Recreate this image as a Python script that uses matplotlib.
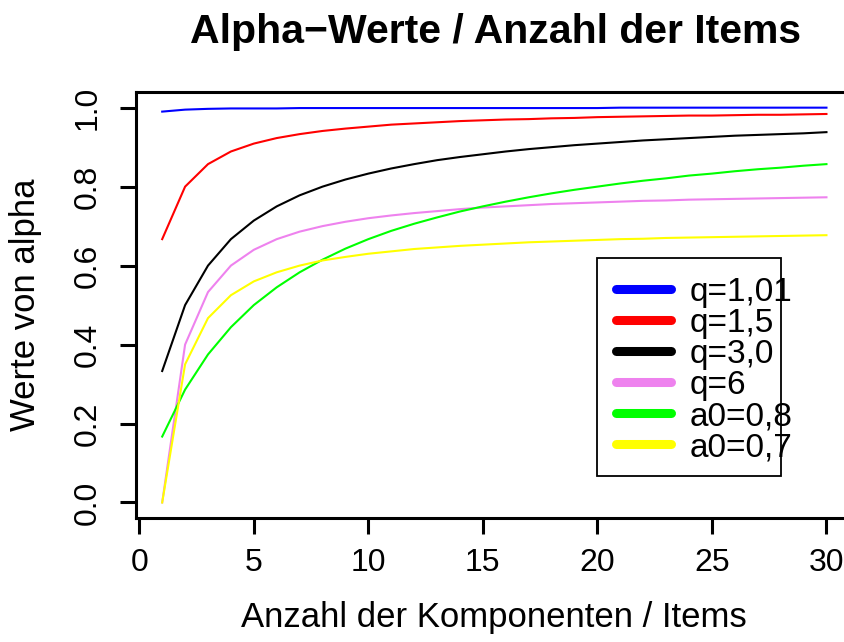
"""Alpha-Werte in Abhaengigkeit von der Anzahl der Items (Nachbau des R-Plots)."""

import matplotlib
matplotlib.use("Agg")
import matplotlib.pyplot as plt

plt.rcParams["font.family"] = ["Liberation Sans", "DejaVu Sans"]

# Anzahl der Komponenten / Items
n_items = list(range(1, 31))

alpha_q101 = [0.990, 0.995, 0.997, 0.998, 0.998, 0.998, 0.999, 0.999, 0.999, 0.999,
              0.999, 0.999, 0.999, 0.999, 0.999, 0.999, 0.999, 0.999, 0.999, 0.999,
              1.000, 1.000, 1.000, 1.000, 1.000, 1.000, 1.000, 1.000, 1.000, 1.000]
alpha_q15 = [0.667, 0.800, 0.857, 0.889, 0.909, 0.923, 0.933, 0.941, 0.947, 0.952,
             0.957, 0.960, 0.963, 0.966, 0.968, 0.970, 0.971, 0.973, 0.974, 0.976,
             0.977, 0.978, 0.979, 0.980, 0.980, 0.981, 0.982, 0.982, 0.983, 0.984]
alpha_q30 = [0.333, 0.500, 0.600, 0.667, 0.714, 0.750, 0.778, 0.800, 0.818, 0.833,
             0.846, 0.857, 0.867, 0.875, 0.882, 0.889, 0.895, 0.900, 0.905, 0.909,
             0.913, 0.917, 0.920, 0.923, 0.926, 0.929, 0.931, 0.933, 0.935, 0.938]
alpha_q6 = [0.000, 0.400, 0.533, 0.600, 0.640, 0.667, 0.686, 0.700, 0.711, 0.720,
            0.727, 0.733, 0.738, 0.743, 0.747, 0.750, 0.753, 0.756, 0.758, 0.760,
            0.762, 0.764, 0.765, 0.767, 0.768, 0.769, 0.770, 0.771, 0.772, 0.773]
alpha_a08 = [0.167, 0.286, 0.375, 0.444, 0.500, 0.545, 0.583, 0.615, 0.643, 0.667,
             0.688, 0.706, 0.722, 0.737, 0.750, 0.762, 0.773, 0.783, 0.792, 0.800,
             0.808, 0.815, 0.821, 0.828, 0.833, 0.839, 0.844, 0.848, 0.853, 0.857]
alpha_a07 = [0.000, 0.350, 0.467, 0.525, 0.560, 0.583, 0.600, 0.613, 0.622, 0.630,
             0.636, 0.642, 0.646, 0.650, 0.653, 0.656, 0.659, 0.661, 0.663, 0.665,
             0.667, 0.668, 0.670, 0.671, 0.672, 0.673, 0.674, 0.675, 0.676, 0.677]

series_labels = ["q=1,01", "q=1,5", "q=3,0", "q=6", "a0=0,8", "a0=0,7"]
series_colors = ["#0000FF", "#FF0000", "#000000", "#EE82EE", "#00FF00", "#FFFF00"]
series_values = [alpha_q101, alpha_q15, alpha_q30, alpha_q6, alpha_a08, alpha_a07]

x_ticks = [0, 5, 10, 15, 20, 25, 30]
y_ticks = [0.0, 0.2, 0.4, 0.6, 0.8, 1.0]

fig = plt.figure(figsize=(8.45, 6.42), dpi=100)
# R-Plotregion reicht rechts ueber den Bildrand hinaus
ax = fig.add_axes([0.1605, 0.1927, 0.849, 0.6642])

for vals, col in zip(series_values, series_colors):
    ax.plot(n_items, vals, color=col, lw=1.5)

ax.set_xlim(-0.16, 31.16)
ax.set_ylim(-0.04, 1.04)
ax.set_xticks(x_ticks)
ax.set_yticks(y_ticks)
ax.set_xticklabels([str(t) for t in x_ticks])
ax.set_yticklabels([f"{t:.1f}" for t in y_ticks], rotation=90, va="center")
ax.tick_params(axis="both", direction="out", length=11.5, width=2.2, labelsize=23)
ax.tick_params(axis="x", pad=10)
ax.tick_params(axis="y", pad=12)
for sp in ax.spines.values():
    sp.set_linewidth(2.2)

# Legende wie in R: Text darf ueber den Rahmen hinauslaufen
box = plt.Rectangle((19.97, 0.067), 8.05, 0.551, fill=False, lw=1.3,
                    edgecolor="black", zorder=5)
ax.add_patch(box)
row_y = 0.540
for lab, col in zip(series_labels, series_colors):
    ax.plot([20.82, 23.2], [row_y, row_y], color=col, lw=6.5,
            solid_capstyle="round", zorder=6)
    ax.text(24.04, row_y, lab, fontsize=24, va="center_baseline", ha="left", zorder=6)
    row_y -= 0.0786

fig.text(0.5858, 0.933, "Alpha\u2212Werte / Anzahl der Items", fontsize=29.5,
         fontweight="bold", ha="center", va="baseline")
fig.text(0.5846, 0.0234, "Anzahl der Komponenten / Items", fontsize=25,
         ha="center", va="baseline")
fig.text(0.0414, 0.525, "Werte von alpha", fontsize=25, rotation=90,
         rotation_mode="anchor", ha="center", va="baseline")

fig.savefig("out.png", dpi=100)
